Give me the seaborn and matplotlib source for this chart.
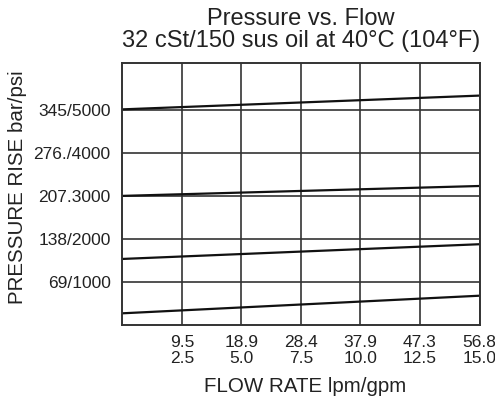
import matplotlib
matplotlib.use("Agg")
import matplotlib.pyplot as plt
import seaborn as sns
import pandas as pd

# flow axis (gpm) and pressure rise per curve (psi)
flow_gpm = [0.0, 15.0]
curve_a = [5010, 5330]
curve_b = [3000, 3230]
curve_c = [1535, 1877]
curve_d = [272, 681]

x_ticks = [2.5, 5.0, 7.5, 10.0, 12.5, 15.0]
x_labels = ["9.5\n2.5", "18.9\n5.0", "28.4\n7.5", "37.9\n10.0", "47.3\n12.5", "56.8\n15.0"]
y_ticks = [1000, 2000, 3000, 4000, 5000]
y_labels = ["69/1000", "138/2000", "207.3000", "276./4000", "345/5000"]

rows = []
for name, vals in [("a", curve_a), ("b", curve_b), ("c", curve_c), ("d", curve_d)]:
    for x, y in zip(flow_gpm, vals):
        rows.append({"curve": name, "flow": x, "pressure": y})
df = pd.DataFrame(rows)

sns.set_style("white")
plt.rcParams["font.family"] = ["Liberation Sans", "DejaVu Sans"]
text_color = "#222222"

fig = plt.figure(figsize=(4.95, 4.03), dpi=100)
ax = fig.add_axes([0.2471, 0.1935, 0.7216, 0.6494])

sns.lineplot(data=df, x="flow", y="pressure", units="curve", estimator=None,
             color="#111111", linewidth=1.6, ax=ax, legend=False)

ax.set_xlim(0, 15)
ax.set_ylim(0, 6080)
ax.set_xticks(x_ticks)
ax.set_xticklabels(x_labels, fontsize=12.5, color=text_color, linespacing=1.1)
ax.set_yticks(y_ticks)
ax.set_yticklabels(y_labels, fontsize=12.5, color=text_color)
ax.tick_params(axis="x", length=0, pad=7)
ax.tick_params(axis="y", length=0, pad=8.5)
ax.grid(True, color="#333333", linewidth=1.2)
for s in ax.spines.values():
    s.set_color("#333333")
    s.set_linewidth(1.4)

ax.set_xlabel("FLOW RATE lpm/gpm", fontsize=14.8, color=text_color)
ax.xaxis.label.set_va("baseline")
ax.xaxis.set_label_coords(0.511, -0.255)
ax.set_ylabel("PRESSURE RISE bar/psi", fontsize=14.8, color=text_color)
ax.yaxis.label.set_va("center")
ax.yaxis.set_label_coords(-0.293, 0.527)
ax.set_title("Pressure vs. Flow\n32 cSt/150 sus oil at 40\u00b0C (104\u00b0F)",
             fontsize=17, color=text_color, linespacing=0.95, pad=12)

fig.savefig("out.png", dpi=100)
